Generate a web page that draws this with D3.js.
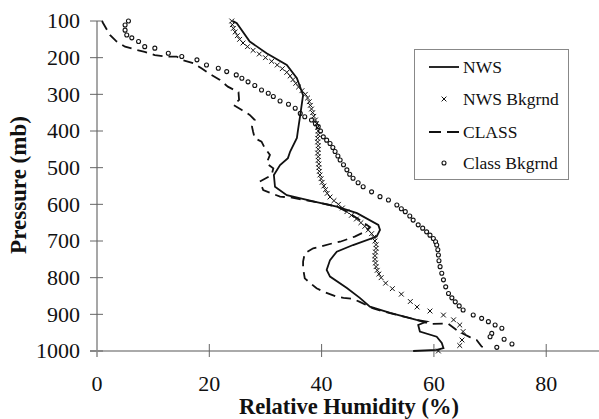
<!DOCTYPE html>
<html>
<head>
<meta charset="utf-8">
<script src="https://cdn.jsdelivr.net/npm/d3@7/dist/d3.min.js"></script>
<style>
html,body{margin:0;padding:0;background:#fff;}
svg{display:block;}
svg text{font-family:"Liberation Serif","Times New Roman",Times,"DejaVu Serif",serif;}
</style>
</head>
<body>
<svg id="chart" width="599" height="419"></svg>
<script>
// ---- Data (RH %, pressure mb) ----
const xTicks = [0, 20, 40, 60, 80];
const yTicks = [100, 200, 300, 400, 500, 600, 700, 800, 900, 1000];
const seriesNames = ["NWS", "NWS Bkgrnd", "CLASS", "Class Bkgrnd"];

const nws = [
  [24.2,100],[24.9,106],[27.2,156],[30.2,188],[33.8,220],[35.6,256],[36.7,302],[36.2,356],
  [35.8,397],[35.6,419],[34.4,456],[34.0,474],[32.6,493],[31.5,520],[31.7,552],[33.8,575],
  [39.1,594],[42.7,606],[46.3,624],[50.1,656],[50.4,670],[49.8,688],[45.6,711],[42.7,729],
  [41.5,752],[40.9,779],[41.5,797],[44.5,828],[46.8,855],[48.6,879],[52.2,896],[56.9,915],
  [58.7,920],[57.2,929],[57.5,947],[60.5,961],[61.4,978],[61.7,992],[60.5,997],[56.3,1000]
];

const nwsBk = [
  [24.0,100],[24.1,110],[24.3,120],[24.6,130],[25.0,140],[25.4,150],[26.0,160],[26.8,170],
  [27.8,180],[28.9,190],[30.0,200],[31.1,210],[32.1,220],[33.0,230],[33.8,240],[34.4,250],
  [34.9,260],[35.4,270],[35.9,280],[36.5,290],[37.1,300],[37.5,310],[37.8,320],[38.0,330],
  [38.2,340],[38.4,350],[38.6,360],[38.9,370],[39.1,380],[39.3,390],[39.4,400],[39.4,410],
  [39.3,420],[39.3,430],[39.4,440],[39.4,450],[39.3,460],[39.4,470],[39.4,480],[39.5,490],
  [39.5,500],[39.6,510],[39.7,520],[39.9,530],[40.1,540],[40.4,550],[40.7,560],[41.0,570],
  [41.5,580],[42.2,590],[43.0,600],[43.7,610],[44.5,620],[45.3,630],[46.2,640],[47.0,650],
  [47.7,660],[48.3,670],[48.9,680],[49.3,690],[49.5,700],[49.7,710],[49.7,720],[49.6,730],
  [49.5,740],[49.5,750],[49.6,760],[49.7,770],[49.9,780],[50.2,790],[50.6,800],[51.4,815],
  [52.6,830],[54.2,845],[55.8,865],[57.0,880],[59.3,891],[61.7,902],[63.5,915],[64.6,929],
  [65.2,947],[65.0,970],[64.6,985],[60.8,1000]
];

const classS = [
  [0.9,100],[1.1,106],[2.3,138],[3.5,156],[5.0,170],[7.1,179],[8.5,184],[10.3,193],[12.4,197],
  [14.2,197],[15.1,206],[17.2,215],[18.6,229],[20.4,247],[21.9,261],[23.3,279],[25.2,294],
  [25.3,315],[24.3,329],[25.8,343],[27.2,356],[28.1,370],[27.6,388],[27.8,402],[28.1,420],
  [29.3,429],[29.9,447],[30.8,465],[30.2,488],[31.4,502],[31.1,520],[29.0,538],[29.6,561],
  [31.1,570],[32.6,579],[34.4,581],[39.1,594],[42.7,606],[44.5,620],[46.8,643],[48.6,662],
  [47.7,675],[45.9,688],[43.3,702],[42.0,706],[39.7,716],[38.5,720],[37.0,734],[36.7,756],
  [36.7,774],[37.0,802],[39.1,829],[40.3,838],[42.7,852],[43.9,855],[45.6,858],[46.8,866],
  [49.2,884],[52.2,897],[55.7,910],[59.3,926],[62.5,925],[64.4,947],[66.4,962],[67.6,970],
  [68.5,988],[69.4,993]
];

const classBk = [
  [5.6,100],[5.0,111],[5.0,125],[5.3,138],[6.2,146],[7.4,156],[8.5,170],[10.3,174],[12.7,188],
  [15.1,197],[17.8,206],[19.5,220],[21.6,229],[23.1,238],[24.8,247],[25.8,256],[26.9,266],
  [28.1,276],[29.3,288],[30.5,297],[31.4,306],[32.6,318],[34.1,327],[35.3,338],[36.2,352],
  [37.0,361],[38.2,370],[38.9,380],[39.4,388],[39.8,400],[40.3,416],[40.9,425],[41.5,434],
  [42.0,445],[42.4,456],[42.9,468],[43.3,479],[43.9,492],[44.5,506],[45.0,518],[45.6,529],
  [46.5,541],[47.4,552],[48.9,566],[50.4,579],[51.9,588],[53.4,602],[54.2,612],[54.9,620],
  [55.7,632],[56.3,643],[57.2,656],[58.0,665],[58.7,675],[59.3,684],[59.9,693],[60.3,702],
  [60.5,711],[60.7,724],[60.8,738],[60.9,754],[61.1,770],[61.4,788],[61.7,806],[62.1,825],
  [62.6,843],[63.2,855],[63.8,866],[64.5,877],[65.2,888],[67.0,902],[68.5,911],[69.7,920],
  [70.9,929],[72.1,938],[70.3,952],[70.0,961],[72.5,968],[73.9,981],[71.2,990]
];

// ---- Layout ----
const svg = d3.select("#chart");
const x = d3.scaleLinear().domain([0, 89.4]).range([97, 599]);
const y = d3.scaleLinear().domain([100, 1000]).range([21, 351]);
const axisCol = "#8a8a8a";

// axes lines
const gAx = svg.append("g");
gAx.append("line").attr("x1", x(0)).attr("x2", x(0)).attr("y1", y(100)).attr("y2", y(1000) + 6)
  .attr("stroke", axisCol).attr("stroke-width", 1.5);
gAx.append("line").attr("x1", x(0) - 7).attr("x2", 599).attr("y1", y(1000)).attr("y2", y(1000))
  .attr("stroke", "#aaa").attr("stroke-width", 2);

// y ticks (crossing)
yTicks.forEach(t => {
  gAx.append("line").attr("x1", x(0) - 7).attr("x2", x(0) + 6).attr("y1", y(t)).attr("y2", y(t))
    .attr("stroke", "#666").attr("stroke-width", 1);
  gAx.append("text").attr("x", 80).attr("y", y(t)).attr("dy", "0.34em")
    .attr("text-anchor", "end").attr("font-size", 22)
    .attr("fill", "#111").text(t);
});
// x ticks
xTicks.forEach(t => {
  if (t !== 0) {
    gAx.append("line").attr("x1", x(t)).attr("x2", x(t)).attr("y1", y(1000) - 7).attr("y2", y(1000) + 6)
      .attr("stroke", "#666").attr("stroke-width", 1);
  }
  gAx.append("text").attr("x", x(t)).attr("y", 391)
    .attr("text-anchor", "middle").attr("font-size", 22)
    .attr("fill", "#111").text(t);
});

// axis titles
svg.append("text").attr("x", 349).attr("y", 414).attr("text-anchor", "middle")
  .attr("font-weight", "bold").attr("font-size", 22.5)
  .attr("fill", "#111").text("Relative Humidity (%)");
svg.append("text").attr("transform", "translate(26,185) rotate(-90)").attr("text-anchor", "middle")
  .attr("font-weight", "bold").attr("font-size", 23)
  .attr("fill", "#111").text("Pressure (mb)");

// ---- Series ----
const line = d3.line().x(d => x(d[0])).y(d => y(d[1]));
const plot = svg.append("g");

// Class Bkgrnd circles
plot.selectAll("circle.cb").data(classBk).join("circle").attr("class", "cb")
  .attr("cx", d => x(d[0])).attr("cy", d => y(d[1])).attr("r", 2)
  .attr("fill", "#fff").attr("stroke", "#111").attr("stroke-width", 1.1);

// CLASS dashed
plot.append("path").datum(classS).attr("d", line).attr("fill", "none")
  .attr("stroke", "#111").attr("stroke-width", 1.8).attr("stroke-dasharray", "10,6");

// NWS solid
plot.append("path").datum(nws).attr("d", line).attr("fill", "none")
  .attr("stroke", "#111").attr("stroke-width", 1.8);

// NWS Bkgrnd x markers
const xs = 2.4;
plot.selectAll("path.nb").data(nwsBk).join("path").attr("class", "nb")
  .attr("d", d => {
    const cx = x(d[0]), cy = y(d[1]);
    return `M${cx - xs},${cy - xs}L${cx + xs},${cy + xs}M${cx - xs},${cy + xs}L${cx + xs},${cy - xs}`;
  })
  .attr("stroke", "#111").attr("stroke-width", 1);

// ---- Legend ----
const lg = svg.append("g");
lg.append("rect").attr("x", 414.5).attr("y", 49.5).attr("width", 154).attr("height", 130)
  .attr("fill", "#fff").attr("stroke", "#888").attr("stroke-width", 1);
const rowsY = [67, 99, 132, 163];
seriesNames.forEach((name, i) => {
  const ry = rowsY[i];
  if (i === 0) {
    lg.append("line").attr("x1", 429).attr("x2", 459).attr("y1", ry).attr("y2", ry)
      .attr("stroke", "#111").attr("stroke-width", 1.8);
  } else if (i === 2) {
    lg.append("line").attr("x1", 429).attr("x2", 459).attr("y1", ry).attr("y2", ry)
      .attr("stroke", "#111").attr("stroke-width", 1.8).attr("stroke-dasharray", "12,6");
  } else if (i === 1) {
    const cx = 444, s = 2.4;
    lg.append("path").attr("d", `M${cx - s},${ry - s}L${cx + s},${ry + s}M${cx - s},${ry + s}L${cx + s},${ry - s}`)
      .attr("stroke", "#111").attr("stroke-width", 1);
  } else {
    lg.append("circle").attr("cx", 444).attr("cy", ry).attr("r", 2)
      .attr("fill", "#fff").attr("stroke", "#111").attr("stroke-width", 1.1);
  }
  lg.append("text").attr("x", 463).attr("y", ry).attr("dy", "0.34em")
    .attr("font-size", 17.5).attr("fill", "#111").text(name);
});
</script>
</body>
</html>
